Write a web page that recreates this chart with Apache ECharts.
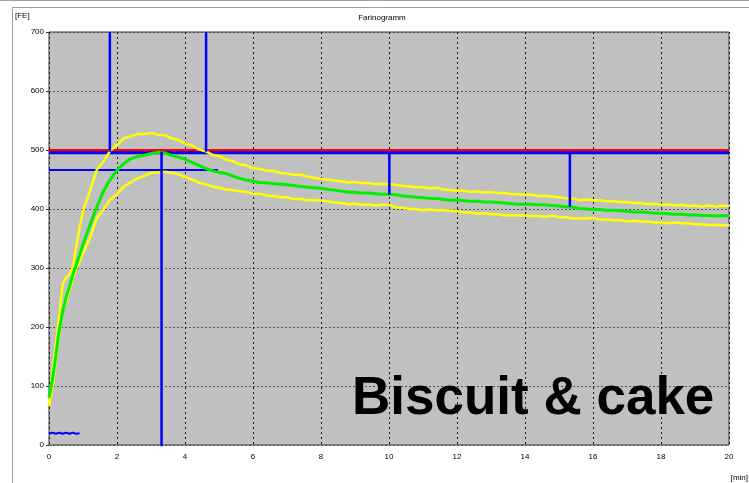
<!DOCTYPE html>
<html><head><meta charset="utf-8">
<script src="https://cdn.jsdelivr.net/npm/echarts@6/dist/echarts.min.js"></script>
<style>html,body{margin:0;padding:0;background:#fff}#c{width:749px;height:483px}</style>
</head><body><div id="c"></div>
<script>
const times = [0,0.1,0.2,0.3,0.4,0.5,0.6,0.7,0.8,0.9,1.0,
1.2,1.4,1.6,1.8,2,2.2,2.4,2.6,2.8,3,3.2,3.4,3.6,3.8,4,4.2,4.4,4.6,4.8,5,5.2,5.4,5.6,5.8,6,6.2,6.4,6.6,6.8,7,7.2,7.4,7.6,7.8,8,8.2,8.4,8.6,8.8,9,9.2,9.4,9.6,9.8,10,10.2,10.4,10.6,10.8,11,11.2,11.4,11.6,11.8,12,12.2,12.4,12.6,12.8,13,13.2,13.4,13.6,13.8,14,14.2,14.4,14.6,14.8,15,15.2,15.4,15.6,15.8,16,16.2,16.4,16.6,16.8,17,17.2,17.4,17.6,17.8,18,18.2,18.4,18.6,18.8,19,19.2,19.4,19.6,19.8,20];
const median = [80,110,150,195,225,250,268,288,305,322,340,
372,403,430,450,466,477,485,489,491,494,496,495,491,488,484,479,474,469,465,462,460,456,452,449,447,445,444,443,442,441,440,438,437,436,435,433,432,430,429,428,427,427,426,425,425,424,422,421,420,419,418,418,416,415,415,414,413,413,412,412,411,410,409,408,408,408,407,407,406,405,404,403,401,400,399,399,398,398,397,396,395,395,394,393,393,392,391,391,390,390,389,389,388,389,388];
const upper = [70,122,168,218,272,284,289,302,336,368,396,
430,466,480,499,508,520,523,527,527,529,526,525,520,517,511,508,501,498,492,490,484,481,476,474,469,468,465,465,461,460,458,458,455,453,451,450,448,447,445,446,444,444,442,443,442,441,439,438,437,437,435,436,433,432,431,431,429,430,428,429,427,427,425,425,424,424,422,422,421,420,418,418,415,416,415,415,413,413,412,412,410,410,408,409,407,408,406,407,405,406,404,406,404,406,405];
const lower = [66,98,142,188,226,244,263,280,299,311,326,
350,384,399,416,425,438,445,452,456,461,462,463,462,459,454,450,445,442,438,436,433,432,430,429,426,426,423,422,420,420,417,417,415,415,414,413,411,410,408,409,407,408,406,407,407,403,402,400,400,398,399,398,398,397,396,394,394,392,393,391,391,389,390,389,389,388,388,387,389,386,386,384,384,384,385,382,382,381,381,379,380,379,379,377,377,376,377,376,376,374,374,373,373,372,373];
const lowTimes = [0,0.1,0.2,0.3,0.4,0.5,0.6,0.7,0.8,0.9];
const lowValues = [19,21,19,21,19,21,19,21,19,20];
const xTicks = [0,2,4,6,8,10,12,14,16,18,20];
const yTicks = [0,100,200,300,400,500,600,700];
// reference marks (data units: [min, FE])
const redLevel = [[0,499],[20,499]];
const blueLevel = [[0,495.5],[20,495.5]];
const blueArrival = [[1.79,700],[1.79,497]];
const blueDeparture = [[4.62,700],[4.62,497]];
const bluePeak = [[3.31,497],[3.31,-3]];
const blueMid = [[0,466],[4.97,466]];
const blueTen = [[10.01,497],[10.01,424]];
const blueDrop = [[15.32,497],[15.32,404]];

const pairs = (t,v)=>t.map((x,i)=>[x,v[i]]);
const chart = echarts.init(document.getElementById('c'),null,{renderer:'canvas'});
const F = 'Liberation Sans, Arial, sans-serif';
const seg = (d,color,w,z)=>({type:'line',data:d,showSymbol:false,symbol:'none',silent:true,z:z||5,lineStyle:{color:color,width:w||3},animation:false,clip:true});
chart.setOption({
  animation:false,
  backgroundColor:'#ffffff',
  grid:{left:49,right:20,top:32,bottom:38,show:true,backgroundColor:'#c0c0c0',borderColor:'#3a3a3a',borderWidth:1},
  xAxis:{type:'value',min:0,max:20,interval:2,
    axisLine:{show:false},axisTick:{show:false},
    axisLabel:{fontFamily:F,fontSize:8,color:'#000',margin:8,formatter:v=>xTicks.includes(v)?String(v):''},
    splitLine:{show:true,lineStyle:{color:'#1a1a1a',type:[2,3],width:1}}},
  yAxis:{type:'value',min:0,max:700,interval:100,
    axisLine:{show:false},axisTick:{show:true,length:3,lineStyle:{color:'#333'}},
    axisLabel:{fontFamily:F,fontSize:8,color:'#000',margin:5,formatter:v=>yTicks.includes(v)?String(v):''},
    splitLine:{show:true,lineStyle:{color:'#555',type:[2,2],width:1}}},
  series:[
    seg(redLevel,'#ff0000',3,2),
    seg(blueLevel,'#0000ff',3,2),
    seg(blueMid,'#0000ff',2,3),
    {type:'line',data:pairs(times,upper),showSymbol:false,symbol:'none',z:4,lineStyle:{color:'#ffff00',width:2.5},animation:false},
    {type:'line',data:pairs(times,lower),showSymbol:false,symbol:'none',z:4,lineStyle:{color:'#ffff00',width:2.5},animation:false},
    {type:'line',data:pairs(times,median),showSymbol:false,symbol:'none',z:4,lineStyle:{color:'#00ee00',width:3},animation:false},
    seg(pairs(lowTimes,lowValues),'#0000ff',2,5),
    seg(blueArrival,'#0000ff',2.5,6),
    seg(blueDeparture,'#0000ff',2.5,6),
    seg(bluePeak,'#0000ff',2.5,6),
    seg(blueTen,'#0000ff',2.5,6),
    seg(blueDrop,'#0000ff',2.5,6)
  ],
  graphic:[
    {type:'line',shape:{x1:0,y1:0.5,x2:749,y2:0.5},style:{stroke:'#a0a0a0',lineWidth:1},silent:true},
    {type:'line',shape:{x1:12,y1:7.5,x2:749,y2:7.5},style:{stroke:'#a0a0a0',lineWidth:1},silent:true},
    {type:'line',shape:{x1:12.5,y1:7,x2:12.5,y2:483},style:{stroke:'#a0a0a0',lineWidth:1},silent:true},
    {type:'text',style:{text:'[FE]',x:15,y:16,font:'8px '+F,fill:'#000',textVerticalAlign:'middle'},silent:true},
    {type:'text',style:{text:'Farinogramm',x:382,y:18,font:'8px '+F,fill:'#000',textAlign:'center',textVerticalAlign:'middle'},silent:true},
    {type:'text',style:{text:'[min]',x:748,y:478,font:'8px '+F,fill:'#000',textAlign:'right',textVerticalAlign:'middle'},silent:true},
    {type:'text',z:100,style:{text:'Biscuit & cake',x:352,y:399,font:'bold 53px '+F,fill:'#000',textVerticalAlign:'middle'},silent:true}
  ]
});
</script></body></html>
